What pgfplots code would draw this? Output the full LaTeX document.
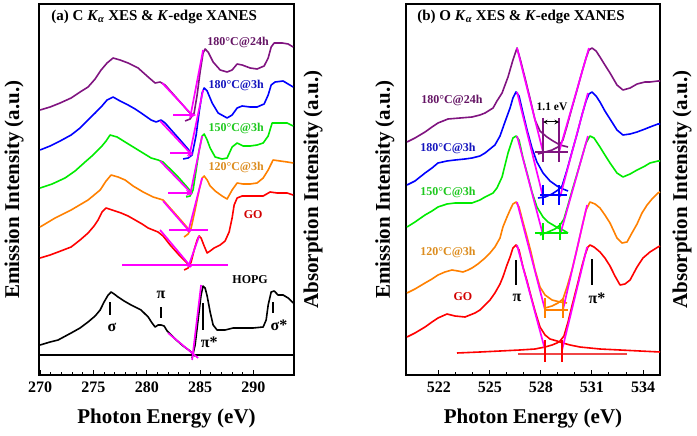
\documentclass[border=0pt]{standalone}
\usepackage{fontspec}
\setmainfont{Liberation Serif}
\usepackage{pgfplots}
\pgfplotsset{compat=1.18}
\definecolor{cpur}{RGB}{128,20,128}
\definecolor{cblue}{RGB}{0,0,255}
\definecolor{cgreen}{RGB}{0,235,0}
\definecolor{corange}{RGB}{255,128,0}
\definecolor{cred}{RGB}{255,0,0}
\definecolor{cmag}{RGB}{255,0,255}
\definecolor{tpur}{RGB}{100,20,100}
\definecolor{tblue}{RGB}{20,20,190}
\definecolor{tgreen}{RGB}{30,200,30}
\definecolor{torange}{RGB}{220,140,30}
\definecolor{tred}{RGB}{210,0,0}
\definecolor{lred}{RGB}{240,70,70}
\tikzset{lab/.style={font=\fontsize{12}{14}\selectfont\bfseries}}
\pgfplotsset{
  myax/.style={
    scale only axis, anchor=south west, height=371pt,
    ymin=4, ymax=375, y dir=reverse, ytick=\empty,
    xtick pos=bottom, tick align=inside,
    major tick length=5pt, minor tick length=3pt,
    tick style={line width=1pt, black},
    axis line style={line width=1.3pt},
    clip=false, no markers,
    /pgf/number format/assume math mode=true,
    xticklabel style={font=\fontsize{16}{18}\selectfont\bfseries, yshift=-3pt},
    xlabel={Photon Energy (eV)},
    xlabel style={font=\fontsize{21}{24}\selectfont\bfseries, at={(axis description cs:0.5,-0.116)}, anchor=center},
    ylabel={Emission Intensity (a.u.)},
    ylabel style={font=\fontsize{21}{24}\selectfont\bfseries, anchor=center},
    every axis plot/.append style={line width=1.6pt, line join=round},
  },
  mg/.style={cmag, line width=1.7pt},
}
\begin{document}
\begin{tikzpicture}[x=1pt,y=1pt]
\useasboundingbox (0,0) rectangle (697,436);
%%%%%%%%%%%%%%%%%%%%%%%% LEFT PANEL
\begin{axis}[myax, at={(39pt,61pt)}, width=255pt,
  xmin=269.9, xmax=293.8, xtick={270,275,280,285,290}, minor x tick num=4,
  ylabel style={at={(axis description cs:-0.098,0.5)}}]
% purple
\addplot[cpur] coordinates {(270.00,110)(270.94,107)(271.88,103)(272.91,98)(273.75,92)(274.50,87)(275.16,79)(275.72,70)(276.28,63)(276.84,58)(277.50,60)(278.25,63)(279.19,68)(280.13,77)(280.78,83)(281.25,82)(281.72,85)(282.38,93)(283.13,102)(283.78,110)(284.25,115)};
\addplot[cpur] coordinates {(283.59,121)(284.06,119)(284.44,113)(284.72,95)(285.00,72)(285.28,53)(285.47,49)(285.75,52)(286.22,62)(286.88,70)(287.53,72)(288.00,70)(288.47,64)(288.94,65)(289.69,68)(290.34,69)(291.00,66)(291.38,58)(291.66,47)(291.94,43)(292.69,43)(293.25,44)(293.72,47)};
% blue
\addplot[cblue] coordinates {(270.00,150)(270.94,146)(271.88,141)(272.91,135)(273.75,128)(274.50,120)(275.16,113)(275.72,107)(276.28,100)(276.84,97)(277.50,101)(278.25,105)(278.91,109)(279.47,113)(280.41,120)(280.88,122)(281.34,120)(281.72,123)(282.38,131)(283.13,140)(283.78,148)(284.25,154)};
\addplot[cblue] coordinates {(283.41,159)(283.88,158)(284.25,155)(284.63,135)(284.91,112)(285.19,93)(285.38,88)(285.66,91)(286.13,103)(286.69,113)(287.53,118)(288.00,115)(288.47,108)(288.94,106)(289.69,107)(290.34,107)(291.00,104)(291.38,95)(291.66,85)(292.03,82)(292.78,81)(293.72,87)};
% green
\addplot[cgreen] coordinates {(270.00,188)(271.13,184)(272.34,178)(273.28,171)(274.22,162)(274.97,155)(275.72,147)(276.19,141)(276.56,135)(277.22,137)(277.97,142)(279.19,150)(280.41,158)(281.06,160)(281.53,162)(282.19,169)(282.94,177)(283.69,186)(284.25,193)};
\addplot[cgreen] coordinates {(283.69,197)(284.06,196)(284.34,190)(284.63,170)(284.91,150)(285.19,136)(285.38,134)(285.66,140)(285.94,148)(286.41,157)(287.06,159)(287.53,158)(288.00,147)(288.47,143)(289.03,146)(289.69,146)(290.34,145)(290.91,143)(291.38,136)(291.75,123)(292.50,123)(293.16,123)(293.72,126)};
% orange
\addplot[corange] coordinates {(270.00,227)(271.41,218)(272.91,210)(274.50,200)(275.63,190)(276.19,181)(276.66,175)(277.31,177)(277.97,180)(278.72,186)(279.66,192)(280.59,197)(281.53,200)(282.19,208)(282.94,217)(283.59,225)(284.06,231)};
\addplot[corange] coordinates {(283.50,237)(283.88,234)(284.16,228)(284.53,210)(284.91,190)(285.19,178)(285.38,176)(285.66,180)(285.94,186)(286.41,191)(287.06,196)(287.53,199)(288.00,190)(288.47,183)(289.03,184)(289.69,184)(290.34,183)(290.91,178)(291.38,170)(291.84,160)(292.50,161)(293.16,162)(293.72,163)};
% red
\addplot[cred] coordinates {(270.00,258)(270.94,255)(271.69,252)(272.91,247)(273.75,240)(274.50,233)(275.06,226)(275.44,220)(275.81,212)(276.19,208)(276.75,210)(277.59,213)(278.25,216)(278.91,220)(279.56,224)(280.13,228)(280.59,230)(281.06,232)(281.53,236)(282.19,245)(282.94,254)(283.59,261)(284.06,266)};
\addplot[cred] coordinates {(283.50,270)(283.88,268)(284.16,262)(284.44,250)(284.72,240)(284.91,236)(285.09,238)(285.38,246)(285.66,253)(285.94,251)(286.31,248)(286.88,245)(287.34,241)(287.72,232)(288.00,218)(288.19,205)(288.47,198)(288.94,196)(289.69,196)(290.44,196)(290.91,196)(291.56,192)(292.22,193)(293.16,193)(293.72,195)};
% HOPG
\addplot[black] coordinates {(270.00,345)(270.94,342)(271.69,340)(272.91,333)(273.75,328)(274.50,322)(275.16,316)(275.63,310)(276.00,302)(276.38,295)(276.66,292)(276.94,294)(277.31,297)(277.88,301)(278.53,305)(279.47,310)(280.13,317)(280.50,323)(280.78,327)(281.06,325)(281.34,325)(281.63,326)(281.91,331)(282.66,339)(283.41,346)(284.06,351)(284.53,356)};
\addplot[black] coordinates {(284.25,358)(284.53,345)(284.81,320)(285.09,295)(285.28,286)(285.47,288)(285.66,296)(285.94,312)(286.22,325)(286.59,330)(287.34,330)(288.09,328)(289.22,328)(289.97,328)(290.91,327)(291.19,320)(291.38,305)(291.66,292)(291.94,291)(292.31,295)(292.78,295)(293.25,298)(293.72,303)};
\addplot[black, line width=1.3pt] coordinates {(269.9,355)(293.8,355)};
% magenta construction lines
\addplot[mg] coordinates {(281.44,83)(284.34,116)};
\addplot[mg] coordinates {(284.06,118)(285.28,50)};
\addplot[mg,-stealth] coordinates {(282.47,115)(284.63,115)};
\addplot[mg] coordinates {(281.25,121)(284.25,155)};
\addplot[mg] coordinates {(283.97,157)(285.28,90)};
\addplot[mg,-stealth] coordinates {(282.19,153)(284.34,153)};
\addplot[mg] coordinates {(281.25,161)(284.25,194)};
\addplot[mg] coordinates {(284.06,195)(285.19,136)};
\addplot[mg,-stealth] coordinates {(282.00,193)(284.25,193)};
\addplot[mg] coordinates {(281.53,201)(284.06,232)};
\addplot[mg] coordinates {(283.88,232)(285.19,178)};
\addplot[mg] coordinates {(282.09,230)(285.75,230)};
\addplot[mg] coordinates {(281.25,230)(284.16,267)};
\addplot[mg] coordinates {(283.88,267)(284.91,236)};
\addplot[mg] coordinates {(277.69,265)(287.63,265)};
\addplot[mg] coordinates {(282.00,333)(284.81,358)};
\addplot[mg] coordinates {(284.25,360)(285.09,285)};
% peak ticks
\addplot[black, line width=1.3pt] coordinates {(276.56,302)(276.56,315)};
\addplot[black, line width=1.3pt] coordinates {(281.34,307)(281.34,318)};
\addplot[black, line width=1.3pt] coordinates {(285.28,303)(285.28,330)};
\addplot[black, line width=1.3pt] coordinates {(291.84,302)(291.84,313)};
\node[font=\fontsize{16}{18}\selectfont\bfseries] at (axis cs:276.75,327) {σ};
\node[font=\fontsize{16}{18}\selectfont\bfseries] at (axis cs:281.34,295) {π};
\node[font=\fontsize{16}{18}\selectfont\bfseries] at (axis cs:285.85,342) {π*};
\node[font=\fontsize{16}{18}\selectfont\bfseries] at (axis cs:292.40,325) {σ*};
% labels
\node[lab, tpur] at (axis cs:288.56,42) {180°C@24h};
\node[lab, tblue] at (axis cs:288.38,85) {180°C@3h};
\node[lab, tgreen] at (axis cs:288.38,128) {150°C@3h};
\node[lab, torange] at (axis cs:288.38,167) {120°C@3h};
\node[lab, tred] at (axis cs:289.97,215) {GO};
\node[lab, black] at (axis cs:289.69,280) {HOPG};
\node[anchor=west, font=\fontsize{15}{17}\selectfont\bfseries] at (axis description cs:0.035,0.965) {(a) C \textit{K}\textsubscript{\textit{α}} XES \& \textit{K}-edge XANES};
\node[rotate=90, font=\fontsize{21}{24}\selectfont\bfseries] at (axis description cs:1.075,0.5) {Absorption Intensity (a.u.)};
\end{axis}
%%%%%%%%%%%%%%%%%%%%%%%% RIGHT PANEL
\begin{axis}[myax, at={(406pt,61pt)}, width=254pt,
  xmin=520.06, xmax=535.0, xtick={522,525,528,531,534}, minor x tick num=2,
  ylabel style={at={(axis description cs:-0.083,0.5)}}]
% purple
\addplot[cpur] coordinates {(520.12,142)(520.59,138)(521.18,132)(521.59,127)(521.94,123)(522.53,119)(523.24,118)(523.94,117)(524.41,115)(524.71,113)(525.18,108)(525.41,101)(525.71,93)(526.06,77)(526.35,60)(526.59,48)(526.76,58)(527.06,78)(527.35,98)(527.65,120)(527.94,131)(528.35,137)(528.71,141)(529.12,145)(529.59,147)};
\addplot[cpur] coordinates {(527.82,154)(528.24,152)(528.65,150)(529.00,147)(529.29,140)(529.53,126)(529.82,108)(530.12,90)(530.41,72)(530.65,58)(530.82,50)(531.00,48)(531.24,51)(531.47,57)(531.76,65)(532.06,73)(532.47,85)(532.82,90)(533.24,88)(533.65,84)(534.12,82)(534.41,82)(534.88,81)(535.00,81)};
% blue
\addplot[cblue] coordinates {(520.12,185)(520.59,181)(521.18,173)(521.59,168)(521.94,163)(522.47,161)(522.94,160)(523.53,159)(523.94,158)(524.41,156)(524.71,153)(525.00,149)(525.29,145)(525.59,136)(525.88,122)(526.18,108)(526.35,98)(526.53,92)(526.71,96)(526.94,113)(527.18,130)(527.47,148)(527.76,162)(528.12,173)(528.53,181)(528.94,186)(529.29,189)(529.59,191)};
\addplot[cblue] coordinates {(527.82,198)(528.24,197)(528.65,194)(529.00,190)(529.24,186)(529.53,170)(529.82,152)(530.12,134)(530.41,115)(530.65,101)(530.82,94)(531.00,92)(531.24,96)(531.47,102)(531.76,111)(532.06,119)(532.47,130)(532.82,135)(533.24,134)(533.65,132)(534.12,129)(534.41,127)(534.88,124)(535.00,124)};
% green
\addplot[cgreen] coordinates {(520.12,227)(520.59,222)(521.18,215)(521.59,211)(521.94,207)(522.47,204)(522.94,203)(523.53,203)(523.94,203)(524.41,200)(524.71,197)(525.18,193)(525.41,188)(525.71,177)(526.06,153)(526.35,138)(526.53,136)(526.71,140)(526.94,158)(527.18,173)(527.47,192)(527.76,207)(528.12,217)(528.41,222)(528.71,225)(529.00,228)(529.29,230)(529.59,233)};
\addplot[cgreen] coordinates {(527.94,235)(528.41,232)(528.82,229)(529.12,225)(529.35,219)(529.59,205)(529.82,191)(530.12,174)(530.41,157)(530.65,143)(530.88,136)(531.12,138)(531.47,147)(531.76,155)(532.06,163)(532.47,173)(532.82,177)(533.24,174)(533.65,170)(534.12,166)(534.41,163)(534.88,161)(535.00,161)};
% orange
\addplot[corange] coordinates {(520.12,293)(520.59,289)(521.18,283)(521.59,279)(521.94,275)(522.35,272)(522.76,270)(523.12,271)(523.41,272)(523.71,270)(523.94,268)(524.29,264)(524.71,258)(525.00,253)(525.29,247)(525.59,238)(525.76,227)(526.00,217)(526.18,210)(526.35,204)(526.53,202)(526.71,207)(526.94,222)(527.18,237)(527.41,252)(527.65,270)(527.94,287)(528.24,295)(528.65,300)(529.12,302)(529.53,303)};
\addplot[corange] coordinates {(528.24,308)(528.65,306)(529.00,303)(529.29,299)(529.53,287)(529.82,270)(530.12,249)(530.41,227)(530.65,210)(530.88,202)(531.18,204)(531.47,208)(531.76,215)(532.06,223)(532.47,238)(532.76,243)(533.06,242)(533.35,233)(533.65,224)(533.94,213)(534.24,205)(534.53,199)(534.88,193)(535.00,192)};
% red
\addplot[cred] coordinates {(520.12,337)(520.59,333)(521.18,327)(521.59,322)(521.94,318)(522.47,314)(522.94,316)(523.53,317)(524.12,313)(524.41,310)(524.71,305)(525.00,300)(525.29,293)(525.59,284)(525.76,277)(526.00,265)(526.18,257)(526.35,248)(526.53,245)(526.71,250)(526.94,267)(527.18,281)(527.41,296)(527.65,311)(527.94,327)(528.24,335)(528.53,339)(528.94,341)(529.29,343)(529.71,345)(530.29,347)(531.47,349)(532.65,350)(533.82,351)(535.00,352)};
\addplot[cred] coordinates {(523.06,353)(524.41,352)(525.59,351)(526.76,350)(527.65,349)(528.24,347)(528.65,345)(528.94,343)(529.12,341)(529.35,336)(529.59,322)(529.82,306)(530.12,286)(530.41,266)(530.59,255)(530.76,247)(530.88,245)(531.12,247)(531.47,252)(531.76,258)(532.06,266)(532.35,276)(532.65,285)(532.94,284)(533.24,280)(533.65,267)(534.00,258)(534.41,252)(534.88,247)(535.00,246)};
\addplot[lred, line width=1.3pt] coordinates {(526.65,354)(533.06,354)};
% magenta construction lines
\addplot[mg] coordinates {(526.59,48)(528.12,152)};
\addplot[mg] coordinates {(529.06,152)(530.82,48)};
\addplot[mg] coordinates {(526.59,92)(528.12,197)};
\addplot[mg] coordinates {(529.12,197)(530.76,93)};
\addplot[mg] coordinates {(526.59,136)(528.12,235)};
\addplot[mg] coordinates {(529.12,235)(530.76,136)};
\addplot[mg] coordinates {(526.59,202)(528.24,310)};
\addplot[mg] coordinates {(529.29,310)(530.71,205)};
\addplot[mg] coordinates {(526.59,245)(528.24,350)};
\addplot[mg] coordinates {(529.24,350)(530.71,247)};
% onset markers
\addplot[cpur, line width=1.3pt] coordinates {(527.65,152)(529.59,152)};
\addplot[cpur, line width=1.3pt] coordinates {(528.12,118)(528.12,162)};
\addplot[cpur, line width=1.3pt] coordinates {(529.06,118)(529.06,162)};
\addplot[black, line width=1pt, stealth-stealth] coordinates {(528.12,122)(529.06,122)};
\addplot[cblue, line width=1.3pt] coordinates {(527.94,195)(529.53,195)};
\addplot[cblue, line width=1.3pt] coordinates {(528.12,185)(528.12,205)};
\addplot[cblue, line width=1.3pt] coordinates {(529.06,185)(529.06,205)};
\addplot[cgreen, line width=1.3pt] coordinates {(527.65,233)(529.59,233)};
\addplot[cgreen, line width=1.3pt] coordinates {(528.12,223)(528.12,240)};
\addplot[cgreen, line width=1.3pt] coordinates {(529.12,223)(529.12,240)};
\addplot[corange, line width=1.3pt] coordinates {(528.24,310)(529.59,310)};
\addplot[corange, line width=1.3pt] coordinates {(528.24,298)(528.24,318)};
\addplot[corange, line width=1.3pt] coordinates {(529.29,298)(529.29,318)};
\addplot[cred, line width=1.3pt] coordinates {(528.24,340)(528.24,362)};
\addplot[cred, line width=1.3pt] coordinates {(529.24,340)(529.24,362)};
% peak ticks
\addplot[black, line width=1.3pt] coordinates {(526.53,260)(526.53,285)};
\addplot[black, line width=1.3pt] coordinates {(531.00,259)(531.00,285)};
\node[font=\fontsize{16}{18}\selectfont\bfseries] at (axis cs:526.59,298) {π};
\node[font=\fontsize{16}{18}\selectfont\bfseries] at (axis cs:531.29,298) {π*};
\node[font=\fontsize{11.5}{13}\selectfont\bfseries] at (axis cs:528.65,107) {1.1 eV};
% labels
\node[lab, tpur] at (axis cs:522.76,100) {180°C@24h};
\node[lab, tblue] at (axis cs:522.53,148) {180°C@3h};
\node[lab, tgreen] at (axis cs:522.53,192) {150°C@3h};
\node[lab, torange] at (axis cs:522.53,252) {120°C@3h};
\node[lab, tred] at (axis cs:523.41,297) {GO};
\node[anchor=west, font=\fontsize{15}{17}\selectfont\bfseries] at (axis description cs:0.031,0.965) {(b) O \textit{K}\textsubscript{\textit{α}} XES \& \textit{K}-edge XANES};
\node[rotate=90, font=\fontsize{21}{24}\selectfont\bfseries] at (axis description cs:1.087,0.5) {Absorption Intensity (a.u.)};
\end{axis}
\end{tikzpicture}
\end{document}
